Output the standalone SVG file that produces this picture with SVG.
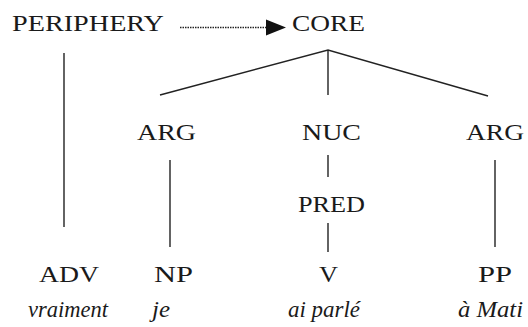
<svg xmlns="http://www.w3.org/2000/svg" width="528" height="327" viewBox="0 0 528 327">
<style>
.a{font-family:'Liberation Serif',serif;font-size:24px;fill:#1a1a1a}
.b{font-family:'Liberation Serif',serif;font-size:24px;font-style:italic;fill:#1a1a1a}
.s{font-family:'Liberation Serif',serif !important}
.ln{stroke:#222;stroke-width:1.4;fill:none}
.dot{stroke:#222;stroke-width:1.4;fill:none;stroke-dasharray:1.5 1}
</style>
<rect width="528" height="327" fill="#fff"/>
<g id="connectors">
<path class="dot" d="M180,27.5 L267,27.5"/>
<path d="M266,19.5 L286,27.5 L266,35.5 z" fill="#111"/>
<path class="ln" d="M64,53 L64,227"/>
<path class="ln" d="M160,95 L328,50 L488,96"/>
<path class="ln" d="M328,50 L328,95"/>
<path class="ln" d="M170,160 L170,247"/>
<path class="ln" d="M328,155 L328,177"/>
<path class="ln" d="M328,223 L328,252"/>
<path class="ln" d="M495,160 L495,247"/>
</g>
<g id="node-periphery"><text class="a" x="12" y="31" textLength="152" lengthAdjust="spacingAndGlyphs"><tspan class="s">PERIPHERY</tspan></text></g>
<g id="node-core"><text class="a" x="292" y="31" textLength="73" lengthAdjust="spacingAndGlyphs"><tspan class="s">CORE</tspan></text></g>
<g id="node-arg1"><text class="a" x="137" y="140" textLength="59" lengthAdjust="spacingAndGlyphs"><tspan class="s">ARG</tspan></text></g>
<g id="node-nuc"><text class="a" x="302" y="140" textLength="59" lengthAdjust="spacingAndGlyphs"><tspan class="s">NUC</tspan></text></g>
<g id="node-arg2"><text class="a" x="466" y="140" textLength="58" lengthAdjust="spacingAndGlyphs"><tspan class="s">ARG</tspan></text></g>
<g id="node-pred"><text class="a" x="298" y="212" textLength="67" lengthAdjust="spacingAndGlyphs"><tspan class="s">PRED</tspan></text></g>
<g id="node-adv">
<text class="a" x="39" y="282" textLength="60" lengthAdjust="spacingAndGlyphs"><tspan class="s">ADV</tspan></text>
<text class="b" x="28" y="317" textLength="80" lengthAdjust="spacingAndGlyphs"><tspan class="s">vraiment</tspan></text>
</g>
<g id="node-np">
<text class="a" x="154" y="282" textLength="39" lengthAdjust="spacingAndGlyphs"><tspan class="s">NP</tspan></text>
<text class="b" x="152" y="317" textLength="18" lengthAdjust="spacingAndGlyphs"><tspan class="s">je</tspan></text>
</g>
<g id="node-v">
<text class="a" x="319" y="282" textLength="19" lengthAdjust="spacingAndGlyphs"><tspan class="s">V</tspan></text>
<text class="b" x="288" y="317" textLength="72" lengthAdjust="spacingAndGlyphs"><tspan class="s">ai parlé</tspan></text>
</g>
<g id="node-pp">
<text class="a" x="478" y="282" textLength="34" lengthAdjust="spacingAndGlyphs"><tspan class="s">PP</tspan></text>
<text class="b" x="458" y="317" textLength="65" lengthAdjust="spacingAndGlyphs"><tspan class="s">à Mati</tspan></text>
</g>
</svg>
